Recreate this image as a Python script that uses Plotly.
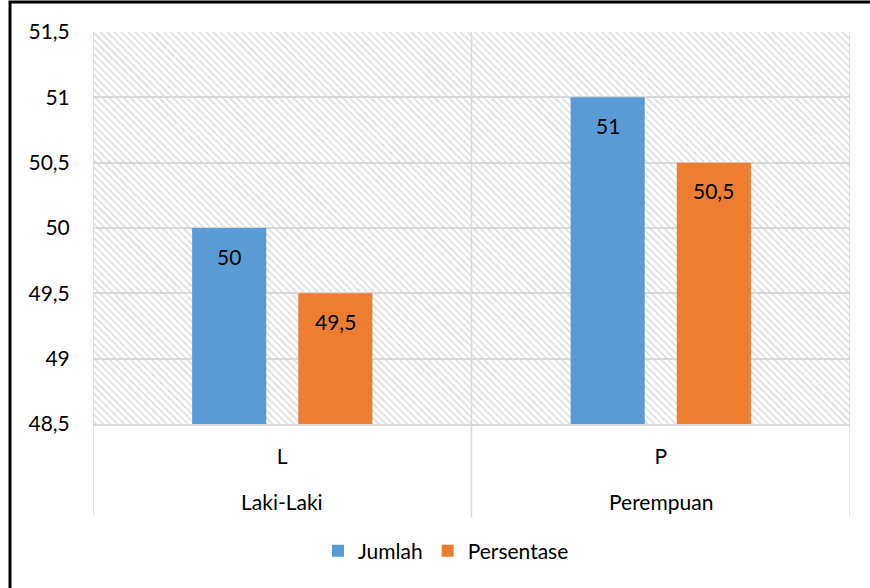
import plotly.graph_objects as go

# ---- data ----
outer_labels = ["Laki-Laki", "Perempuan"]
inner_labels = ["L", "P"]
jumlah = [50, 51]
persentase = [49.5, 50.5]
y_tick_values = [48.5, 49, 49.5, 50, 50.5, 51, 51.5]
series_names = ["Jumlah", "Persentase"]
series_colors = ["#5b9bd5", "#ed7d31"]

# ---- layout constants ----
W, H = 870, 588
L, R, T, B = 93, 20, 32, 164
plot_w = W - L - R
plot_h = H - T - B
FONT = "Lato"
FS = 21
y_min, y_max = y_tick_values[0], y_tick_values[-1]
bargap = 0.439
bargroupgap = 0.302

xs = list(range(len(inner_labels)))

fig = go.Figure()

# hatched background on base axis (drawn below data)
fig.add_trace(go.Bar(
    x=[0.5], y=[y_max - y_min], base=[y_min], width=[1],
    xaxis="x", yaxis="y",
    marker=dict(color="#d4d4d4", line=dict(width=0),
                pattern=dict(shape="\\", size=5, solidity=0.28,
                             fgcolor="#d6d6d6", bgcolor="rgba(0,0,0,0)",
                             fillmode="replace")),
    showlegend=False, hoverinfo="skip",
))

for name, vals, col in zip(series_names, [jumlah, persentase], series_colors):
    fig.add_trace(go.Bar(
        x=xs, y=vals, name=name, marker=dict(color=col, line=dict(width=0)),
        xaxis="x2", yaxis="y",
    ))

# data labels
group_w = 1 - bargap
slot = group_w / len(series_names)
annotations = []
for s, vals in enumerate([jumlah, persentase]):
    off = -group_w / 2 + slot * (s + 0.5)
    for i, v in enumerate(vals):
        annotations.append(dict(
            x=xs[i] + off, y=v, xref="x2", yref="y",
            text=f"{v:g}".replace(".", ","), showarrow=False,
            yshift=-28, font=dict(family=FONT, size=FS, color="#000000"),
        ))

# outer category labels
for i, lab in enumerate(outer_labels):
    annotations.append(dict(
        x=xs[i], y=-(501 - 424) / plot_h, xref="x2", yref="paper",
        text=lab, showarrow=False, yanchor="middle",
        font=dict(family=FONT, size=FS, color="#000000"),
    ))

shapes = []
# vertical separators (plot borders + divider) extending below
for xv in [-0.5, 0.5, 1.5]:
    shapes.append(dict(type="line", xref="x2", yref="paper",
                       x0=xv, x1=xv, y0=-(517 - 424) / plot_h, y1=1,
                       line=dict(color="#d9d9d9", width=1.5), layer="above"))
# outer chart border
shapes.append(dict(type="rect", xref="paper", yref="paper",
                   x0=(10 - L) / plot_w, x1=(890 - L) / plot_w,
                   y0=-(610 - (H - B)) / plot_h, y1=((H - B) - 2) / plot_h,
                   line=dict(color="#000000", width=3)))

fig.update_layout(
    width=W, height=H,
    margin=dict(l=L, r=R, t=T, b=B),
    paper_bgcolor="white", plot_bgcolor="white",
    separators=",.",
    barmode="group", bargap=bargap, bargroupgap=bargroupgap,
    font=dict(family=FONT, size=FS, color="#000000"),
    xaxis=dict(range=[0, 1], visible=False, fixedrange=True),
    xaxis2=dict(overlaying="x", side="bottom", range=[-0.5, 1.5],
                tickmode="array", tickvals=xs, ticktext=inner_labels,
                ticks="outside", ticklen=13, tickcolor="rgba(0,0,0,0)",
                showgrid=False, zeroline=False, showline=True,
                linecolor="#d9d9d9", linewidth=1.5,
                tickfont=dict(family=FONT, size=FS, color="#000000")),
    yaxis=dict(range=[y_min, y_max], tickmode="array", tickvals=y_tick_values,
               ticks="outside", ticklen=18, tickcolor="rgba(0,0,0,0)",
               showgrid=True, gridcolor="#d9d9d9", gridwidth=1.5,
               zeroline=False, showline=False,
               tickfont=dict(family=FONT, size=FS, color="#000000")),
    legend=dict(orientation="h", x=(446 - L) / plot_w, xanchor="center",
                y=-(551 - 424) / plot_h, yanchor="middle",
                font=dict(family=FONT, size=FS, color="#000000"),
                bgcolor="rgba(0,0,0,0)"),
    annotations=annotations,
    shapes=shapes,
)

fig.write_html("out.html",
               config={"displayModeBar": False},
               post_script="document.body.style.margin='0';document.body.style.padding='0';")
